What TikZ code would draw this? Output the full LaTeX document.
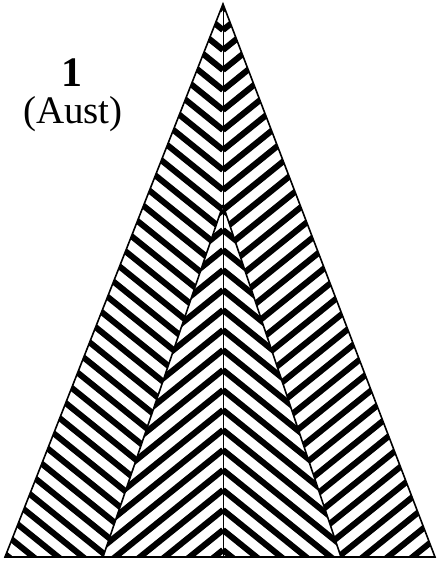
\documentclass[tikz,border=0pt]{standalone}
\usepackage{fontspec}
\setmainfont{Liberation Serif}
\begin{document}
\begin{tikzpicture}[x=1pt,y=-1pt,
  stripe/.style={line width=6pt},
  edge/.style={line width=1.6pt, line join=miter},
  seam/.style={line width=1pt},
  lbl/.style={inner sep=0pt, font=\fontsize{39}{44}\selectfont}]
\useasboundingbox (0,0) rectangle (437,564);
\coordinate (A) at (223,4);
\coordinate (I) at (223,205);
\coordinate (BL) at (5,557);
\coordinate (BR) at (435,557);
\coordinate (IL) at (103,557);
\coordinate (IR) at (341,557);
\coordinate (M) at (223,557);
% outer left: "\" stripes
\begin{scope}
\clip (A) -- (BL) -- (IL) -- (I) -- cycle;
\foreach \c in {-10,10,...,770} \draw[stripe] (223,\c) -- (0,\c-180);
\end{scope}
% outer right: "/" stripes
\begin{scope}
\clip (A) -- (I) -- (IR) -- (BR) -- cycle;
\foreach \c in {-10,10,...,770} \draw[stripe] (223,\c) -- (446,\c-180);
\end{scope}
% inner left: "/" stripes
\begin{scope}
\clip (I) -- (IL) -- (M) -- cycle;
\foreach \c in {-10,10,...,770} \draw[stripe] (223,\c) -- (0,\c+180);
\end{scope}
% inner right: "\" stripes
\begin{scope}
\clip (I) -- (M) -- (IR) -- cycle;
\foreach \c in {-10,10,...,770} \draw[stripe] (223,\c) -- (446,\c+180);
\end{scope}
\draw[edge] (A) -- (BL) -- (BR) -- cycle;
\draw[edge] (I) -- (IL);
\draw[edge] (I) -- (IR);
\draw[seam] (A) -- (M);
\node[lbl, font=\fontsize{42}{46}\selectfont\bfseries] (one) at (72,73) {1};
\node[lbl] (aust) at (73,114) {(Aust)};
\end{tikzpicture}
\end{document}
